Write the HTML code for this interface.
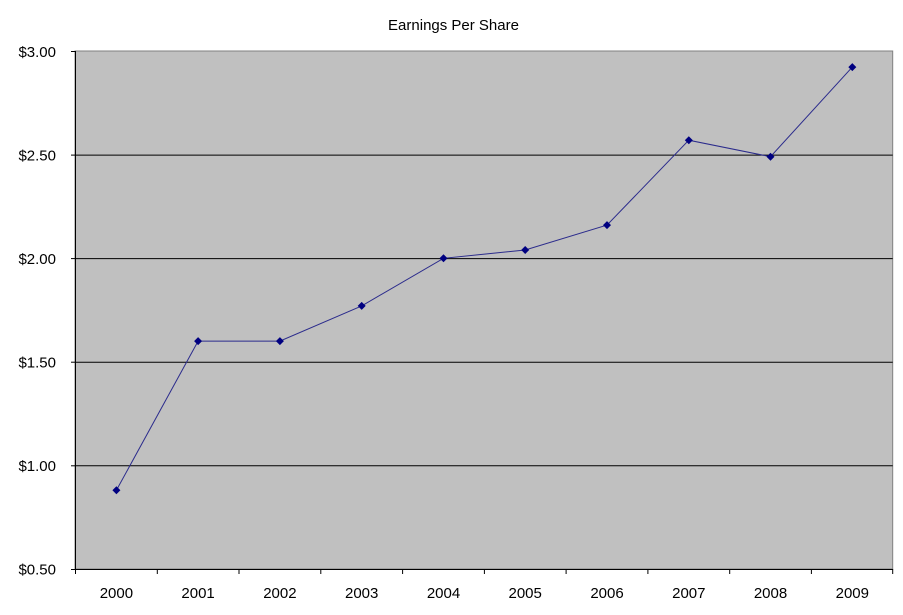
<!DOCTYPE html>
<html><head><meta charset="utf-8"><style>
html,body{margin:0;padding:0;background:#fff;}
svg{display:block;font-family:"Liberation Sans",Arial,sans-serif;}
</style></head><body>
<svg width="903" height="615" viewBox="0 0 903 615" xmlns="http://www.w3.org/2000/svg">
<rect width="903" height="615" fill="#fff"/>
<text x="453.5" y="30" font-size="15" text-anchor="middle" fill="#000">Earnings Per Share</text>
<rect x="75" y="51" width="817.7" height="518" fill="#c0c0c0" stroke="#808080" stroke-width="1"/>
<g stroke="#000" stroke-width="1">
<line x1="75" y1="155.1" x2="892.7" y2="155.1"/>
<line x1="75" y1="258.6" x2="892.7" y2="258.6"/>
<line x1="75" y1="362.2" x2="892.7" y2="362.2"/>
<line x1="75" y1="465.8" x2="892.7" y2="465.8"/>
<line x1="75.5" y1="51" x2="75.5" y2="569"/>
<line x1="75" y1="569.5" x2="892.7" y2="569.5"/>
<line x1="71" y1="51.5" x2="75" y2="51.5"/>
<line x1="71" y1="155.1" x2="75" y2="155.1"/>
<line x1="71" y1="258.6" x2="75" y2="258.6"/>
<line x1="71" y1="362.2" x2="75" y2="362.2"/>
<line x1="71" y1="465.8" x2="75" y2="465.8"/>
<line x1="71" y1="569.5" x2="75" y2="569.5"/>
<line x1="75.5" y1="569" x2="75.5" y2="574"/>
<line x1="157.3" y1="569" x2="157.3" y2="574"/>
<line x1="239" y1="569" x2="239" y2="574"/>
<line x1="320.8" y1="569" x2="320.8" y2="574"/>
<line x1="402.6" y1="569" x2="402.6" y2="574"/>
<line x1="484.4" y1="569" x2="484.4" y2="574"/>
<line x1="566.1" y1="569" x2="566.1" y2="574"/>
<line x1="647.9" y1="569" x2="647.9" y2="574"/>
<line x1="729.7" y1="569" x2="729.7" y2="574"/>
<line x1="811.4" y1="569" x2="811.4" y2="574"/>
<line x1="892.7" y1="569" x2="892.7" y2="574"/>
</g>
<g font-size="15" text-anchor="end" fill="#000">
<text x="56" y="57">$3.00</text>
<text x="56" y="160.5">$2.50</text>
<text x="56" y="264">$2.00</text>
<text x="56" y="367.5">$1.50</text>
<text x="56" y="471">$1.00</text>
<text x="56" y="574.5">$0.50</text>
</g>
<g font-size="15" text-anchor="middle" fill="#000">
<text x="116.4" y="598">2000</text>
<text x="198.1" y="598">2001</text>
<text x="279.9" y="598">2002</text>
<text x="361.7" y="598">2003</text>
<text x="443.5" y="598">2004</text>
<text x="525.2" y="598">2005</text>
<text x="607" y="598">2006</text>
<text x="688.8" y="598">2007</text>
<text x="770.5" y="598">2008</text>
<text x="852.3" y="598">2009</text>
</g>
<polyline fill="none" stroke="#2b2b8c" stroke-width="1" points="116.4,490.3 198.1,341.1 279.9,341.1 361.7,305.9 443.5,258.3 525.2,250 607,225.1 688.8,140.2 770.5,156.7 852.3,67.1"/>
<g fill="#000080">
<path d="M116.4 486.3l4 4-4 4-4-4z"/>
<path d="M198.1 337.1l4 4-4 4-4-4z"/>
<path d="M279.9 337.1l4 4-4 4-4-4z"/>
<path d="M361.7 301.9l4 4-4 4-4-4z"/>
<path d="M443.5 254.3l4 4-4 4-4-4z"/>
<path d="M525.2 246l4 4-4 4-4-4z"/>
<path d="M607 221.1l4 4-4 4-4-4z"/>
<path d="M688.8 136.2l4 4-4 4-4-4z"/>
<path d="M770.5 152.7l4 4-4 4-4-4z"/>
<path d="M852.3 63.1l4 4-4 4-4-4z"/>
</g>
</svg>
</body></html>
